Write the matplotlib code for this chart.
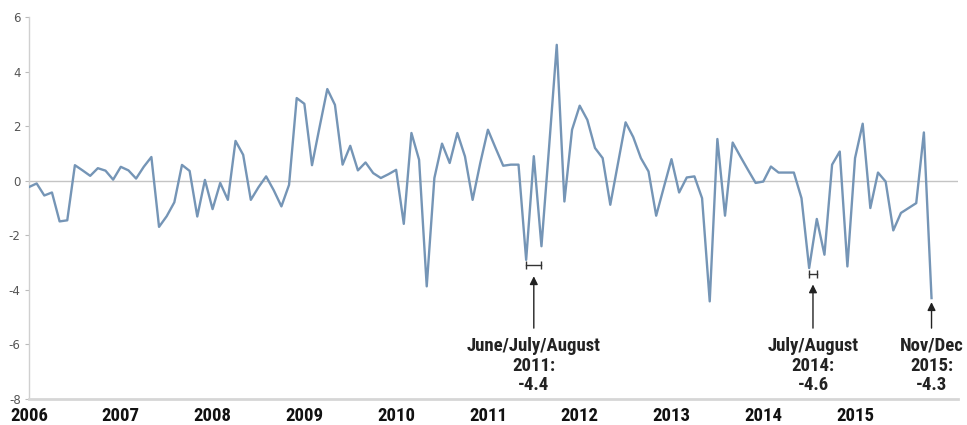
import numpy as np
import matplotlib
matplotlib.use("Agg")
import matplotlib.pyplot as plt
from matplotlib import font_manager

# monthly values, Jan 2006 .. Nov/Dec 2015
values = [
    -0.23, -0.10, -0.54, -0.43, -1.49, -1.45, 0.57, 0.38, 0.18, 0.46,
    0.37, 0.04, 0.51, 0.38, 0.08, 0.51, 0.87, -1.69, -1.30, -0.79,
    0.58, 0.36, -1.31, 0.03, -1.04, -0.08, -0.70, 1.46, 0.95, -0.70,
    -0.24, 0.16, -0.35, -0.94, -0.15, 3.03, 2.82, 0.57, 1.98, 3.36,
    2.78, 0.59, 1.28, 0.38, 0.67, 0.28, 0.10, 0.24, 0.40, -1.58,
    1.75, 0.77, -3.87, 0.10, 1.36, 0.65, 1.75, 0.89, -0.70,
    0.65, 1.87, 1.20, 0.55, 0.59, 0.59, -2.90, 0.90, -2.40, 1.24,
    4.98, -0.76, 1.87, 2.75, 2.23, 1.20, 0.83, -0.88, 0.63, 2.14, 1.60,
    0.83, 0.34, -1.28, -0.24, 0.79, -0.43, 0.12, 0.16, -0.64, -4.42,
    1.53, -1.28, 1.40, 0.89, 0.40, -0.08, -0.03, 0.52, 0.30,
    0.30, 0.30, -0.64, -3.20, -1.40, -2.71, 0.59, 1.07, -3.14, 0.83,
    2.09, -1.00, 0.30, -0.03, -1.82, -1.18, -1.00, -0.82, 1.77, -4.30,
]
years = list(range(2006, 2016))
yticks = [-8, -6, -4, -2, 0, 2, 4, 6]

# annotated episodes: first and last month index, label
notes = [
    (65, 67, "June/July/August\n2011:\n-4.4"),
    (102, 103, "July/August\n2014:\n-4.6"),
    (118, 118, "Nov/Dec\n2015:\n-4.3"),
]


def pick_font():
    # a condensed bold face if there is one, else Roboto
    for fam in ["Roboto Condensed", "Liberation Sans Narrow", "DejaVu Sans"]:
        fp = font_manager.FontProperties(family=fam, weight="bold",
                                         stretch="condensed")
        try:
            path = font_manager.findfont(fp, fallback_to_default=False)
        except Exception:
            continue
        if fam != "DejaVu Sans" or "Condensed" in path:
            return [fam, "DejaVu Sans"], 13.5, 13.5
    return ["Roboto", "DejaVu Sans"], 12, 12


note_font, note_size, year_size = pick_font()

x = np.arange(len(values))

fig = plt.figure(figsize=(9.67, 4.25), dpi=100)
ax = fig.add_axes([0.030, 0.061, 0.961, 0.899])

ax.axhline(0, color="#c4c4c4", lw=1.0, zorder=1)
ax.plot(x, values, color="#7595b6", lw=1.7, zorder=3)

ax.set_xlim(0, 121.5)
ax.set_ylim(-8, 6)
ax.set_yticks(yticks)
ax.set_yticklabels([str(t) for t in yticks])
ax.set_xticks([12 * i for i in range(len(years))])
ax.set_xticklabels([str(y) for y in years], fontweight="bold",
                   fontsize=year_size, family=note_font, fontstretch="condensed")

ax.tick_params(axis="x", length=0, pad=6, colors="#111111")
ax.tick_params(axis="y", length=3, width=0.8, color="#bbbbbb",
               labelcolor="#555555", labelsize=8.5, pad=3)

for s in ["top", "right"]:
    ax.spines[s].set_visible(False)
ax.spines["left"].set_color("#d0d0d0")
ax.spines["left"].set_linewidth(1.0)
ax.spines["bottom"].set_color("#d6d6d6")
ax.spines["bottom"].set_linewidth(2.0)

for i0, i1, label in notes:
    xm = (i0 + i1) / 2
    low = min(values[i0:i1 + 1])
    if i1 > i0:
        yb = low - 0.2
        ax.plot([i0, i1], [yb, yb], color="#333333", lw=1.0,
                marker="|", ms=6, mew=1.0, zorder=4, clip_on=False)
        tip = yb - 0.4
    else:
        tip = low - 0.15
    ax.annotate("", xy=(xm, tip), xytext=(xm, -5.4),
                arrowprops=dict(arrowstyle="-|>", color="#222222", lw=1.0,
                                mutation_scale=12, shrinkA=0, shrinkB=0),
                annotation_clip=False)
    ax.text(xm, -5.72, label, ha="center", va="top", fontsize=note_size,
            fontweight="bold", family=note_font, fontstretch="condensed",
            color="#222222", linespacing=1.12, clip_on=False)

fig.savefig("out.png", dpi=100, facecolor="white")
